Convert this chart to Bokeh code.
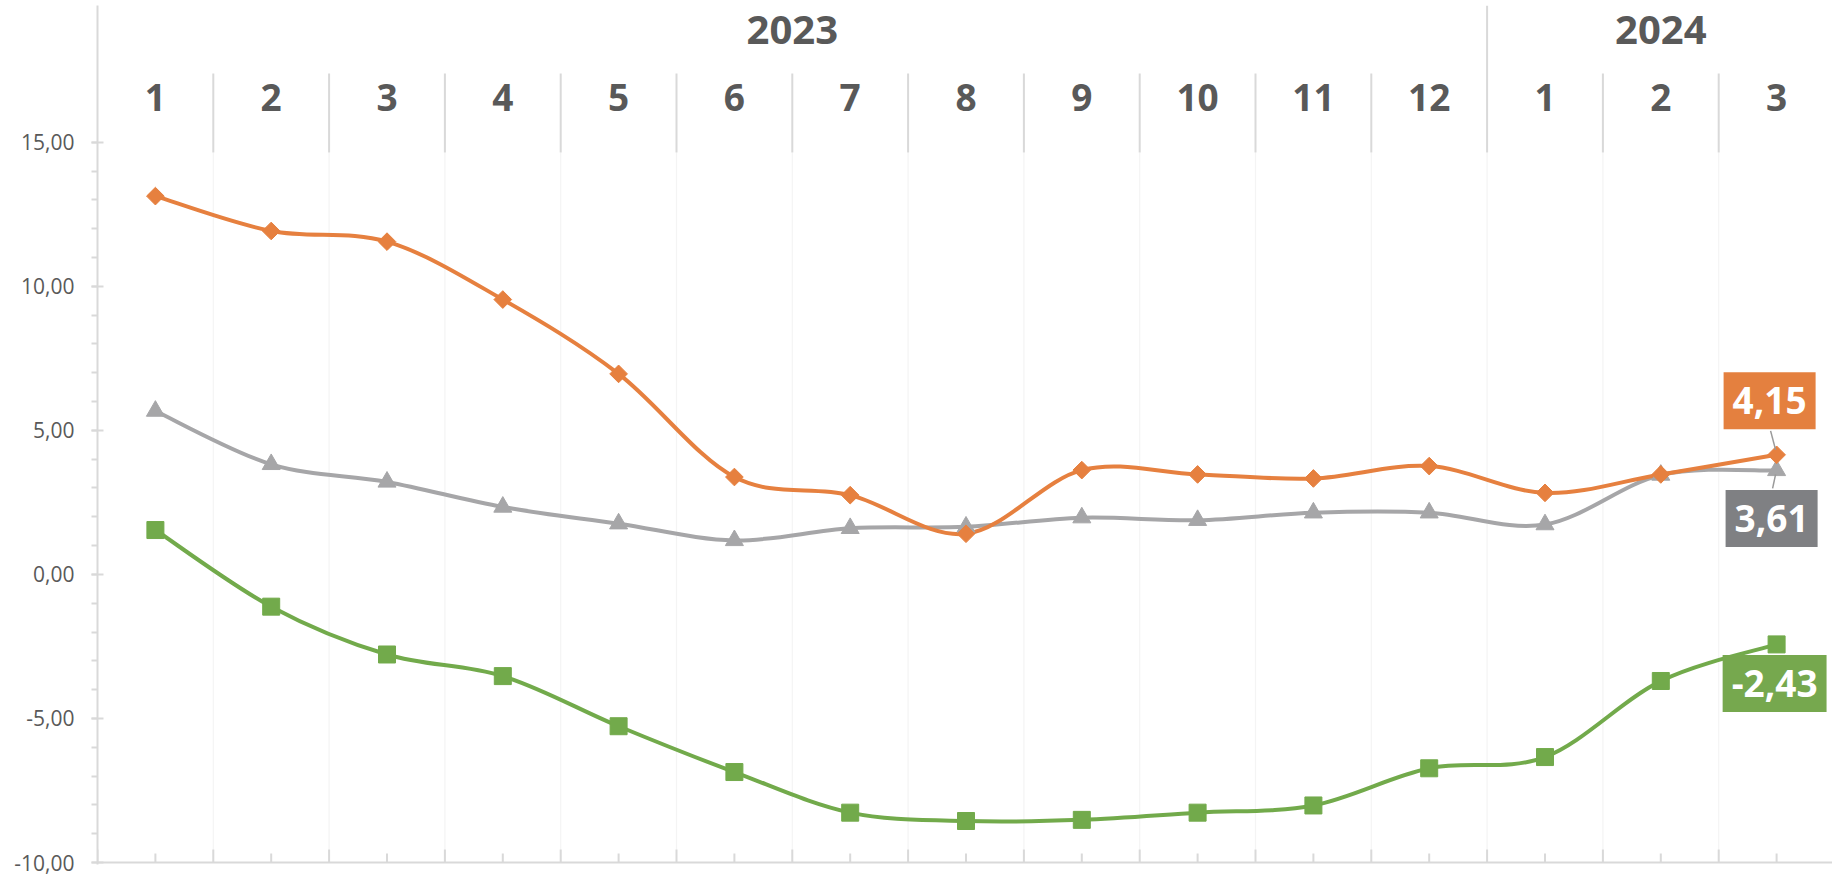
import math
from bokeh.plotting import figure
from bokeh.models import Range1d, FixedTicker, CustomJSTickFormatter, Label, ColumnDataSource
from bokeh.core.properties import value
from bokeh.embed import file_html
from bokeh.resources import INLINE

# ---------------- data ----------------
months = ["1", "2", "3", "4", "5", "6", "7", "8", "9", "10", "11", "12", "1", "2", "3"]
years = ["2023"] * 12 + ["2024"] * 3
series_orange = [13.13, 11.92, 11.55, 9.54, 6.96, 3.38, 2.75, 1.41, 3.62, 3.47, 3.33, 3.76, 2.83, 3.47, 4.15]
series_gray = [5.67, 3.82, 3.21, 2.34, 1.76, 1.18, 1.60, 1.65, 1.97, 1.88, 2.14, 2.14, 1.73, 3.45, 3.61]
series_green = [1.54, -1.12, -2.78, -3.53, -5.27, -6.86, -8.27, -8.56, -8.52, -8.27, -8.02, -6.73, -6.34, -3.70, -2.43]
y_major_ticks = [-10, -5, 0, 5, 10, 15]
y_minor_ticks = list(range(-10, 16))

# ---------------- styles / layout ----------------
W, H = 1832, 875
BORDER_L, BORDER_T, BORDER_B = 97, 5, 11
PX_PER_CAT = 115.8
PX_PER_UNIT = 28.81
FRAME_H = H - BORDER_T - BORDER_B
AXIS_MIN = -10
Y_MIN = AXIS_MIN - 2 / PX_PER_UNIT
Y_MAX = Y_MIN + FRAME_H / PX_PER_UNIT


def px_to_units(px):
    return px / PX_PER_UNIT


def y_from_top(px):  # px measured from frame top -> value units
    return Y_MAX - px / PX_PER_UNIT


YEAR_Y = y_from_top(24)
MONTH_Y = y_from_top(92)
SEP_TOP = y_from_top(68)
HDR_BOTTOM = y_from_top(147)

AXIS_COLOR = "#d9d9d9"
TEXT_COLOR = "#595959"
C_ORANGE = "#E6803F"
C_GRAY = "#A6A6A8"
C_GREEN = "#72AA4B"
BOX_ORANGE = "#E4803F"
BOX_GRAY = "#7F8083"
BOX_GREEN = "#76A84E"
FONT = "Open Sans"

n = len(months)
xs = list(range(n))
X_MIN = -0.5
X_MAX = X_MIN + (W - BORDER_L) / PX_PER_CAT

p = figure(width=W, height=H, output_backend="svg", toolbar_location=None,
           x_range=Range1d(X_MIN, X_MAX), y_range=Range1d(Y_MIN, Y_MAX),
           min_border_left=BORDER_L, min_border_right=0, min_border_top=BORDER_T,
           min_border_bottom=BORDER_B)
p.outline_line_color = None
p.xgrid.visible = False
p.ygrid.visible = False
p.xaxis.visible = False
p.background_fill_color = "white"
p.border_fill_color = "white"

# y axis
ya = p.yaxis[0]
ya.ticker = FixedTicker(ticks=y_major_ticks, minor_ticks=y_minor_ticks)
ya.formatter = CustomJSTickFormatter(code="return tick.toFixed(2).replace('.', ',');")
ya.axis_line_color = AXIS_COLOR
ya.axis_line_width = 2
ya.major_tick_line_color = AXIS_COLOR
ya.major_tick_line_width = 2
ya.major_tick_in = 6
ya.major_tick_out = 6
ya.minor_tick_line_color = AXIS_COLOR
ya.minor_tick_line_width = 2
ya.minor_tick_in = 0
ya.minor_tick_out = 6
ya.major_label_standoff = 17
ya.major_label_text_font = FONT
ya.major_label_text_font_size = "21px"
ya.major_label_text_color = TEXT_COLOR

boundaries = [i - 0.5 for i in range(n + 1)]
inner_b = boundaries[1:]

# faint vertical gridlines in the plot body
p.segment(x0=inner_b, y0=[AXIS_MIN] * len(inner_b), x1=inner_b, y1=[HDR_BOTTOM] * len(inner_b),
          line_color="#f4f4f4", line_width=1.2)

# bottom category axis: line + tick marks (boundaries long, centres short)
p.segment(x0=[X_MIN], y0=[AXIS_MIN], x1=[boundaries[-1]], y1=[AXIS_MIN],
          line_color=AXIS_COLOR, line_width=2)
p.segment(x0=boundaries, y0=[AXIS_MIN] * len(boundaries), x1=boundaries,
          y1=[AXIS_MIN + px_to_units(13)] * len(boundaries), line_color=AXIS_COLOR, line_width=2)
p.segment(x0=xs, y0=[AXIS_MIN] * n, x1=xs, y1=[AXIS_MIN + px_to_units(9)] * n,
          line_color=AXIS_COLOR, line_width=2)

# header separators
year_breaks = [i - 0.5 for i in range(1, n) if years[i] != years[i - 1]]
month_breaks = [b for b in inner_b if b not in year_breaks]
p.segment(x0=month_breaks, y0=[HDR_BOTTOM] * len(month_breaks), x1=month_breaks,
          y1=[SEP_TOP] * len(month_breaks), line_color=AXIS_COLOR, line_width=2)
p.segment(x0=year_breaks, y0=[HDR_BOTTOM] * len(year_breaks), x1=year_breaks,
          y1=[Y_MAX] * len(year_breaks), line_color=AXIS_COLOR, line_width=2)

# header labels
p.text(x=xs, y=[MONTH_Y] * n, text=months, text_font=value(FONT), text_font_style="bold",
       text_font_size="37px", text_color=TEXT_COLOR, text_align="center", text_baseline="middle")
year_names = []
for y in years:
    if y not in year_names:
        year_names.append(y)
year_x = [sum(i for i in xs if years[i] == yn) / years.count(yn) for yn in year_names]
p.text(x=year_x, y=[YEAR_Y] * len(year_names), text=year_names, text_font=value(FONT),
       text_font_style="bold", text_font_size="40px", text_color=TEXT_COLOR,
       text_align="center", text_baseline="middle")


# smoothed lines (Bezier segments, Catmull-Rom style control points)
def bezier_source(x, y, t=1 / 6):
    d = dict(x0=[], y0=[], x1=[], y1=[], cx0=[], cy0=[], cx1=[], cy1=[])
    m = len(x)
    for i in range(m - 1):
        xp, yp = (x[i - 1], y[i - 1]) if i > 0 else (x[i], y[i])
        xn, yn = (x[i + 2], y[i + 2]) if i + 2 < m else (x[i + 1], y[i + 1])
        d["x0"].append(x[i]); d["y0"].append(y[i])
        d["x1"].append(x[i + 1]); d["y1"].append(y[i + 1])
        d["cx0"].append(x[i] + (x[i + 1] - xp) * t); d["cy0"].append(y[i] + (y[i + 1] - yp) * t)
        d["cx1"].append(x[i + 1] - (xn - x[i]) * t); d["cy1"].append(y[i + 1] - (yn - y[i]) * t)
    return ColumnDataSource(d)


for vals, col in [(series_gray, C_GRAY), (series_green, C_GREEN), (series_orange, C_ORANGE)]:
    p.bezier(x0="x0", y0="y0", x1="x1", y1="y1", cx0="cx0", cy0="cy0", cx1="cx1", cy1="cy1",
             source=bezier_source(xs, vals), line_color=col, line_width=4, line_cap="round")

p.scatter(xs, series_gray, marker="triangle", size=18, color=C_GRAY)
p.scatter(xs, series_green, marker="square", size=17, color=C_GREEN)
p.scatter(xs, series_orange, marker="square", angle=math.pi / 4, size=12.5, color=C_ORANGE)


# data labels on the last point
def fmt(v):
    return f"{v:.2f}".replace(".", ",")


last = n - 1
# leader lines
p.segment(x0=[last - 6 / PX_PER_CAT], y0=[series_orange[-1] + px_to_units(24)],
          x1=[last - 1 / PX_PER_CAT], y1=[series_orange[-1] + px_to_units(5)],
          line_color="#9a9a9a", line_width=1.5)
p.segment(x0=[last - 4 / PX_PER_CAT], y0=[series_gray[-1] - px_to_units(18)],
          x1=[last - 1 / PX_PER_CAT], y1=[series_gray[-1] - px_to_units(4)],
          line_color="#9a9a9a", line_width=1.5)

for vals, box, dx, dy in [(series_orange, BOX_ORANGE, -7, 54),
                          (series_gray, BOX_GRAY, -5, -48),
                          (series_green, BOX_GREEN, -2, -39)]:
    p.add_layout(Label(x=last, y=vals[-1], x_offset=dx, y_offset=dy, text=fmt(vals[-1]),
                       text_font=FONT, text_font_style="bold", text_font_size="37px",
                       text_color="white", text_align="center", text_baseline="middle",
                       background_fill_color=box, padding=dict(left=9, right=9, top=15, bottom=15)))

open("out.html", "w").write(file_html(p, INLINE))
